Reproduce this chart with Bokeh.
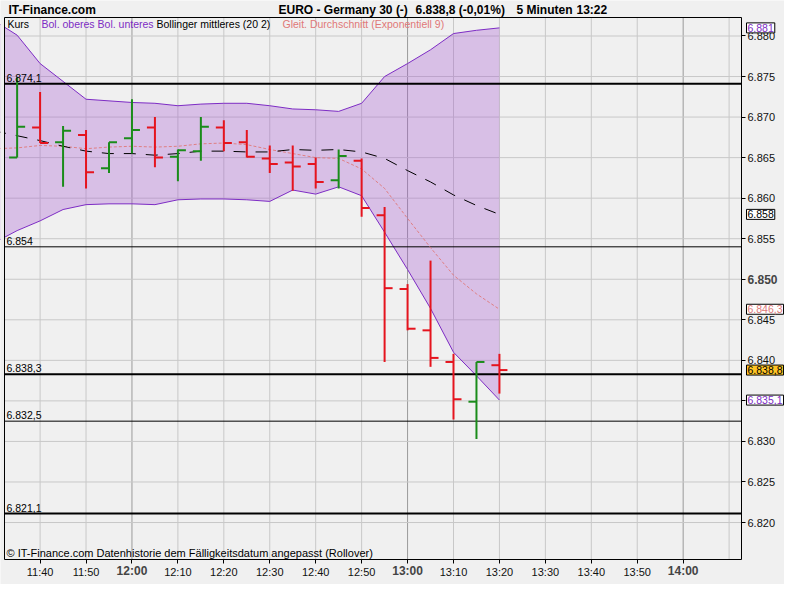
from bokeh.plotting import figure
from bokeh.models import FixedTicker, Label, Range1d, ColumnDataSource, LinearAxis
from bokeh.embed import file_html
from bokeh.resources import INLINE

# ---------------- data ----------------
bar_times = ["11:35", "11:40", "11:45", "11:50", "11:55", "12:00", "12:05", "12:10",
             "12:15", "12:20", "12:25", "12:30", "12:35", "12:40", "12:45", "12:50",
             "12:55", "13:00", "13:05", "13:10", "13:15", "13:20"]
opens = [6865.0, 6868.7, 6866.9, 6867.8, 6863.7, 6867.4, 6868.7, 6865.1, 6865.8, 6868.7, 6866.9,
         6864.9, 6864.4, 6864.2, 6862.2, 6864.6, 6857.9, 6848.8, 6843.7, 6839.8, 6834.9, 6839.4]
highs = [6874.9, 6873.1, 6868.9, 6868.4, 6866.9, 6872.2, 6870.0, 6866.0, 6870.0, 6869.6, 6868.4,
         6866.5, 6866.5, 6865.0, 6866.0, 6864.9, 6858.9, 6849.4, 6852.3, 6840.8, 6839.8, 6840.8]
lows = [6865.0, 6866.8, 6861.4, 6861.2, 6863.1, 6865.5, 6863.8, 6862.1, 6864.6, 6865.8, 6865.0,
        6863.1, 6860.9, 6861.2, 6861.2, 6857.7, 6839.8, 6843.7, 6839.2, 6832.7, 6830.3, 6835.9]
closes = [6868.8, 6866.8, 6868.3, 6863.2, 6866.9, 6868.4, 6865.0, 6865.9, 6868.8, 6866.8, 6865.1,
          6864.2, 6863.9, 6862.0, 6865.2, 6858.8, 6848.9, 6843.9, 6840.3, 6835.2, 6839.8, 6838.8]

ind_times = ["11:30"] + bar_times
boll_upper = [6881.9, 6880.1, 6876.6, 6874.4, 6872.2, 6872.0, 6871.8, 6871.7, 6871.4, 6871.6, 6871.7, 6871.7,
              6871.4, 6871.0, 6870.9, 6870.7, 6871.7, 6875.0, 6876.6, 6878.3, 6880.3, 6880.7, 6881.0]
boll_lower = [6854.5, 6856.0, 6857.2, 6858.6, 6859.2, 6859.3, 6859.3, 6859.2, 6859.8, 6859.9, 6859.9, 6859.8,
              6859.6, 6861.0, 6860.5, 6861.4, 6860.3, 6855.8, 6851.2, 6846.4, 6841.0, 6838.1, 6835.1]
boll_middle = [6868.3, 6867.7, 6867.1, 6866.4, 6865.8, 6865.5, 6865.5, 6865.3, 6865.5, 6865.8, 6865.8, 6865.7,
               6865.7, 6866.0, 6865.9, 6866.0, 6865.7, 6864.9, 6863.4, 6862.0, 6860.4, 6859.1, 6858.0]
ema9 = [6866.1, 6866.2, 6866.5, 6866.4, 6866.1, 6866.3, 6866.4, 6866.3, 6866.4, 6866.7, 6866.8, 6866.6,
        6866.0, 6865.5, 6865.0, 6864.9, 6863.6, 6861.2, 6857.5, 6853.9, 6850.5, 6848.2, 6846.3]

levels = [6874.1, 6854.0, 6838.3, 6832.5, 6821.1]
level_thick = [True, False, True, False, True]

price_ticks = [6820, 6825, 6830, 6835, 6840, 6845, 6850, 6855, 6860, 6865, 6870, 6875, 6880]
time_ticks = ["11:40", "11:50", "12:00", "12:10", "12:20", "12:30", "12:40", "12:50",
              "13:00", "13:10", "13:20", "13:30", "13:40", "13:50", "14:00"]
grid_times = time_ticks + ["14:10"]


def mins(t):
    h, m = t.split(":")
    return (int(h) - 11) * 60 + int(m)


def de(v, dec=1):
    s = f"{v:,.{dec}f}".replace(",", "X").replace(".", ",").replace("X", ".")
    if s.endswith(",0"):
        s = s[:-2]
    return s


# ---------------- geometry (canvas pixels) ----------------
X0, X1 = 32.25, 192.7          # visible time window of the chart box (minutes after 11:00)
Y0, Y1 = 6815.44, 6882.28      # visible price window
W, H = 784, 584                # canvas
PL, PT, PR, PB = 4, 17, 741, 559  # chart box inside the canvas
KX = (PR - PL) / (X1 - X0)
KY = (PB - PT) / (Y1 - Y0)


def xd(px):
    return X0 + (px - PL) / KX


def yd(py):
    return Y1 - (py - PT) / KY


def xs(rx):   # horizontal position inside the chart box
    return PL + (rx - 4) * (PR - PL) / (749 - 4)


FONT = "Liberation Sans"
BG = "#f0f0f0"
GREEN = "#1a8c1a"
RED = "#e5141e"
PURPLE = "#7d2cc4"
SALMON = "#e07878"

p = figure(width=W, height=H,
           x_range=Range1d(xd(0), xd(W)), y_range=Range1d(yd(H), yd(0)),
           output_backend="svg", toolbar_location=None, title=None,
           x_axis_location=None, y_axis_location=None,
           min_border_left=0, min_border_right=0, min_border_top=0, min_border_bottom=0)
p.background_fill_color = BG
p.border_fill_color = BG
p.outline_line_color = None
p.xgrid.visible = False
p.ygrid.visible = False

# grid lines (inside the chart box only)
minor_t = [mins(t) for t in grid_times if not t.endswith(":00")]
hour_t = [mins(t) for t in grid_times if t.endswith(":00")]
p.segment(x0=minor_t, x1=minor_t, y0=[Y0] * len(minor_t), y1=[Y1] * len(minor_t),
          line_color="#c8c8c8", line_width=1)
p.segment(x0=hour_t, x1=hour_t, y0=[Y0] * len(hour_t), y1=[Y1] * len(hour_t),
          line_color="#9a9a9a", line_width=1)
p.segment(x0=[X0] * len(price_ticks), x1=[X1] * len(price_ticks), y0=price_ticks, y1=price_ticks,
          line_color="#c8c8c8", line_width=1)

# axes fixed on the chart box edges
xa = LinearAxis(fixed_location=Y0, ticker=FixedTicker(ticks=[mins(t) for t in time_ticks]))
xa.major_label_overrides = {mins(t): ("" if t.endswith(":00") else t) for t in time_ticks}
ya = LinearAxis(fixed_location=X1, ticker=FixedTicker(ticks=price_ticks))
ya.major_label_overrides = {v: ("" if v == 6850 else de(v)) for v in price_ticks}
for ax in (xa, ya):
    ax.axis_line_color = None
    ax.major_tick_in = 0
    ax.major_tick_out = 4
    ax.minor_tick_out = 0
    ax.minor_tick_in = 0
    ax.major_tick_line_color = "black"
    ax.major_label_text_font = FONT
    ax.major_label_text_font_size = "11px"
    ax.major_label_text_color = "#111111"
    ax.major_label_standoff = 2
p.add_layout(xa, "below")
p.add_layout(ya, "right")

# indicators
ind = ColumnDataSource(dict(t=[mins(t) for t in ind_times], up=boll_upper, lo=boll_lower,
                            mid=boll_middle, ema=ema9))
p.varea(x="t", y1="lo", y2="up", source=ind, fill_color="#a24fd0", fill_alpha=0.3)
p.line(x="t", y="up", source=ind, line_color=PURPLE, line_width=1)
p.line(x="t", y="lo", source=ind, line_color=PURPLE, line_width=1)

# support / resistance levels
thick = [v for v, k in zip(levels, level_thick) if k]
thin = [v for v, k in zip(levels, level_thick) if not k]
p.segment(x0=[X0] * len(thick), x1=[X1] * len(thick), y0=thick, y1=thick, line_color="black", line_width=2)
p.segment(x0=[X0] * len(thin), x1=[X1] * len(thin), y0=thin, y1=thin, line_color="black", line_width=1)

p.line(x="t", y="ema", source=ind, line_color=SALMON, line_width=1, line_dash="3 2", line_alpha=0.9)
p.line(x="t", y="mid", source=ind, line_color="black", line_width=1, line_dash="12 10")

# OHLC bars
bt = [mins(t) for t in bar_times]
cols = [GREEN if c >= o else RED for o, c in zip(opens, closes)]
tick = 8 / KX
bars = ColumnDataSource(dict(t=bt, o=opens, h=highs, l=lows, c=closes, col=cols,
                             tl=[x - tick for x in bt], tr=[x + tick for x in bt]))
p.segment(x0="t", y0="l", x1="t", y1="h", source=bars, line_color="col", line_width=2)
p.segment(x0="tl", y0="o", x1="t", y1="o", source=bars, line_color="col", line_width=2)
p.segment(x0="t", y0="c", x1="tr", y1="c", source=bars, line_color="col", line_width=2)

# mask left of the chart box, then the box border
p.quad(left=[xd(0)], right=[X0], bottom=[Y0], top=[Y1 + 1], fill_color=BG, line_color=None)
p.quad(left=[X0], right=[X1], bottom=[Y0], top=[Y1], fill_color=None, line_color="black", line_width=1)


def lab(text, px, py, size="10.5px", color="black", style="normal", align="left", baseline="middle", **kw):
    p.add_layout(Label(x=xd(px), y=yd(py), text=text, text_font=FONT, text_font_size=size,
                       text_color=color, text_font_style=style, text_align=align,
                       text_baseline=baseline, **kw))


# header
lab("IT-Finance.com", 8, 9, size="12px", style="bold")
lab("EURO - Germany 30 (-)", 278, 9, size="12px", style="bold")
lab(f"{de(closes[-1])} (-0,01%)", 415, 9, size="12px", style="bold")
lab("5 Minuten", 516, 9, size="12px", style="bold")
lab("13:22", 576, 9, size="12px", style="bold")

# legend row
lab("Kurs", 7, 23)
lab("Bol. oberes Bol. unteres", 41, 23, color=PURPLE)
lab("Bollinger mittleres (20 2)", 156, 23)
lab("Gleit. Durchschnitt (Exponentiell 9)", 282, 23, color=SALMON)

# footer
lab("\u00a9 IT-Finance.com", 6, 552, size="11px")
lab("Datenhistorie dem F\u00e4lligkeitsdatum angepasst (Rollover)", 96, 552, size="11px")

# level labels
for v in levels:
    p.add_layout(Label(x=xd(6), y=v + 2 / KY, text=de(v), text_font=FONT, text_font_size="10.5px",
                       text_color="black", text_baseline="bottom"))

# bold axis labels
for t in time_ticks:
    if t.endswith(":00"):
        p.add_layout(Label(x=mins(t), y=yd(570), text=t, text_font=FONT, text_font_size="12px",
                           text_font_style="bold", text_align="center", text_baseline="middle"))
p.add_layout(Label(x=xd(PR + 6), y=6850, text=de(6850), text_font=FONT, text_font_size="12px",
                   text_font_style="bold", text_baseline="middle"))

# last value boxes
boxes = [(boll_upper[-1], PURPLE, "white"), (boll_middle[-1], "black", "white"),
         (ema9[-1], SALMON, "white"), (closes[-1], "black", "#ffc425"),
         (boll_lower[-1], PURPLE, "white")]
for v, tc, bg in boxes:
    p.add_layout(Label(x=xd(PR + 5), y=v, text=de(v), text_font=FONT, text_font_size="10.5px",
                       text_color=tc, text_baseline="middle", background_fill_color=bg,
                       border_line_color="black", border_line_width=1, padding=1))

open("out.html", "w").write(file_html(p, INLINE))
